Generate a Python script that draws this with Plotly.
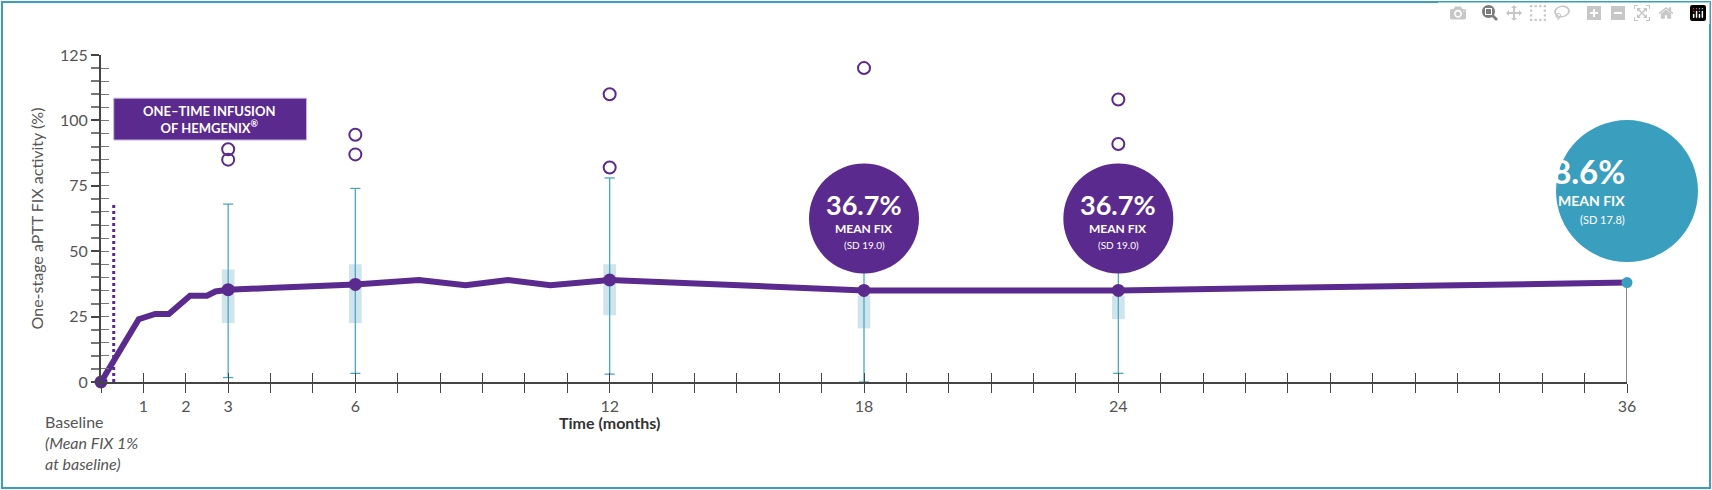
import plotly.graph_objects as go

line_x = [0, 0.89, 1.28, 1.6, 2.1, 2.5, 2.7, 3, 4.1, 5.2, 6, 7.5, 8.6, 9.6, 10.6, 12, 18, 24, 36]
line_y = [0, 24, 26, 26, 33, 33, 34.6, 35.3, 36, 36.7, 37.3, 39, 37, 39, 37, 39, 35, 35, 38]
dot_x = [0, 3, 6, 12, 18, 24]
dot_y = [0, 35.3, 37.3, 39, 35, 35]

box_x = [3, 6, 12, 18, 24]
q1 = [22.5, 22.5, 25.5, 20.5, 24]
q3 = [43, 45, 45, 33, 33]
wlo = [1.7, 3.3, 3, 0, 3.3]
whi = [68, 74, 78, 55, 55]
out_x = [3, 3, 6, 6, 12, 12, 18, 24, 24]
out_y = [89, 85, 94.5, 87, 110, 82, 120, 108, 91]

bubble_x = [18, 24]
bubble_y = [62.5, 62.5]
bubble_pct = ["36.7%", "36.7%"]
bubble_sd = ["(SD 19.0)", "(SD 19.0)"]
final_x, final_y, final_pct, final_sd = 36, 38, "38.6%", "(SD 17.8)"
final_bubble_y = 73

xlabel_vals = [1, 2, 3, 6, 12, 18, 24, 36]
month_ticks = list(range(0, 37))

PURPLE = "#5b2a8f"
TEAL = "#3a9fbf"
BOXC = "#cfe4eb"
GRAY = "#555555"
YMAX = 125

fig = go.Figure()
wx, wy = [], []
for x, lo, hi in zip(box_x, wlo, whi):
    wx += [x, x, None, x - 0.12, x + 0.12, None, x - 0.12, x + 0.12, None]
    wy += [lo, hi, None, lo, lo, None, hi, hi, None]
fig.add_trace(go.Scatter(x=wx, y=wy, mode="lines", line=dict(color="#4aa7c4", width=1.3), hoverinfo="skip"))
fig.add_trace(go.Bar(x=box_x, y=[b - a for a, b in zip(q1, q3)], base=q1, width=0.3,
                     marker=dict(color=BOXC, line=dict(width=0))))
fig.add_trace(go.Scatter(x=[0.3, 0.3], y=[0, 68], mode="lines", line=dict(color=PURPLE, width=3, dash="dot")))
fig.add_trace(go.Scatter(x=line_x, y=line_y, mode="lines", line=dict(color=PURPLE, width=6), cliponaxis=False))
fig.add_trace(go.Scatter(x=dot_x, y=dot_y, mode="markers", marker=dict(color=PURPLE, size=13), cliponaxis=False))
fig.add_trace(go.Scatter(x=out_x, y=out_y, mode="markers",
                         marker=dict(symbol="circle-open", color=PURPLE, size=12, line=dict(width=2))))
fig.add_trace(go.Scatter(x=[final_x, final_x], y=[0, final_y], mode="lines", line=dict(color="#444", width=1.3),
                         cliponaxis=False))
fig.add_trace(go.Scatter(x=[final_x], y=[final_y], mode="markers", marker=dict(color=TEAL, size=11), cliponaxis=False))

shapes = []
ann = []
for x, y, p, s in zip(bubble_x, bubble_y, bubble_pct, bubble_sd):
    shapes.append(dict(type="circle", xref="x", yref="y", xsizemode="pixel", ysizemode="pixel",
                       xanchor=x, yanchor=y, x0=-55, x1=55, y0=-55, y1=55, fillcolor=PURPLE, line=dict(width=0), layer="above"))
    ann.append(dict(x=x, y=y, xref="x", yref="y", yshift=14, showarrow=False,
                    text=f"<b>{p}</b>", font=dict(size=27, color="white", family="Lato")))
    ann.append(dict(x=x, y=y, xref="x", yref="y", yshift=-10, showarrow=False,
                    text="<b>MEAN FIX</b>", font=dict(size=12, color="white", family="Lato")))
    ann.append(dict(x=x, y=y, xref="x", yref="y", yshift=-26, showarrow=False,
                    text=s, font=dict(size=10, color="white", family="Lato")))
fyp = final_bubble_y / YMAX
shapes.append(dict(type="circle", xref="paper", yref="paper", xsizemode="pixel", ysizemode="pixel",
                   xanchor=1, yanchor=fyp, x0=-71, x1=71, y0=-71, y1=71, fillcolor=TEAL, line=dict(width=0), layer="above"))
ann += [dict(x=1, y=fyp, xref="paper", yref="paper", yshift=20, showarrow=False, text=f"<b>{final_pct}</b>",
             font=dict(size=33, color="white", family="Lato")),
        dict(x=1, y=fyp, xref="paper", yref="paper", yshift=-9, showarrow=False, text="<b>MEAN FIX</b>",
             font=dict(size=14, color="white", family="Lato")),
        dict(x=1, y=fyp, xref="paper", yref="paper", yshift=-28, showarrow=False, text=final_sd,
             font=dict(size=11, color="white", family="Lato"))]
shapes.append(dict(type="rect", xref="x", yref="y", x0=0.3, x1=4.85, y0=92.5, y1=108.5,
                   fillcolor=PURPLE, line=dict(color="#c9b8df", width=1)))
ann.append(dict(x=2.57, y=100.5, xref="x", yref="y", showarrow=False,
                text="<b>ONE–TIME INFUSION<br>OF HEMGENIX<sup>®</sup></b>",
                font=dict(size=13, color="white", family="Lato")))
W, H, L, R, T, B = 1712, 490, 101, 85, 55, 108
pw, ph = W - L - R, H - T - B
shapes.append(dict(type="rect", xref="paper", yref="paper", x0=(2 - L) / pw, x1=(W - 2 - L) / pw,
                   y0=-(B - 2) / ph, y1=(H - 2 - B) / ph, line=dict(color=TEAL, width=2), layer="below"))
ann.append(dict(x=0, y=0, xref="x", yref="y", yshift=-28, xshift=-10, showarrow=False, align="left",
                text="Baseline<br><i>(Mean FIX 1%<br>at baseline)</i>", yanchor="top",
                font=dict(size=16, color=GRAY, family="Lato")))
ann.append(dict(x=12, y=0, xref="x", yref="y", yshift=-40, showarrow=False,
                text="<b>Time (months)</b>", font=dict(size=16, color="#333", family="Lato")))

fig.update_layout(
    width=W, height=H, margin=dict(l=L, r=R, t=T, b=B), plot_bgcolor="white", paper_bgcolor="white",
    showlegend=False, shapes=shapes, annotations=ann, font=dict(family="Lato", color=GRAY),
    xaxis=dict(range=[0, 36], tickvals=month_ticks,
               ticktext=[str(m) if m in xlabel_vals else "" for m in month_ticks],
               ticks="outside", ticklen=9, tickcolor="#444", showgrid=False, zeroline=False,
               showline=True, linecolor="#444", linewidth=2, tickfont=dict(size=16, color=GRAY)),
    xaxis2=dict(range=[0, 36], overlaying="x", tickvals=month_ticks[1:], ticks="inside", ticklen=9,
                tickcolor="#444", showticklabels=False, showgrid=False, zeroline=False),
    yaxis=dict(range=[0, YMAX], tickvals=[0, 25, 50, 75, 100, 125], ticks="outside", ticklen=8,
               tickcolor="#444", tickwidth=2, showgrid=False, zeroline=False, showline=True, linecolor="#444",
               linewidth=2, tickfont=dict(size=16, color=GRAY),
               minor=dict(dtick=5, ticks="outside", ticklen=8, tickcolor="#777"),
               title=dict(text="One-stage aPTT FIX activity (%)", font=dict(size=16, color=GRAY), standoff=12)),
    yaxis2=dict(range=[0, YMAX], overlaying="y", tickvals=list(range(5, 130, 5)), ticks="inside", ticklen=8,
                tickcolor="#777", showticklabels=False, showgrid=False, zeroline=False),
)
fig.add_trace(go.Scatter(x=[None], y=[None], xaxis="x2", yaxis="y2"))
fig.write_html("out.html", post_script="document.body.style.margin='0';document.body.style.overflow='hidden';")
